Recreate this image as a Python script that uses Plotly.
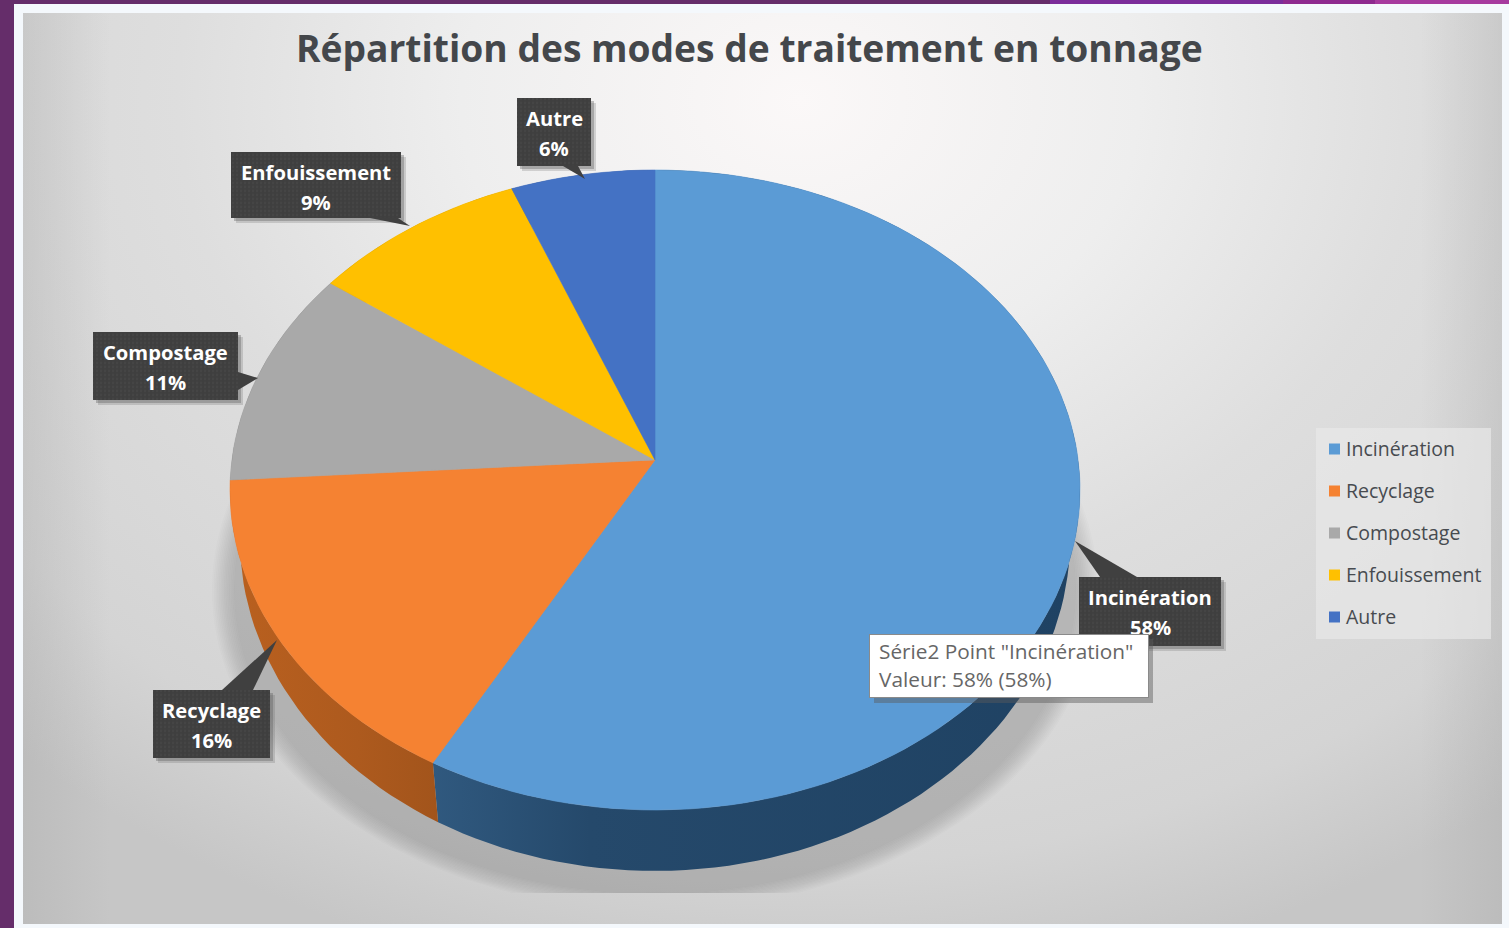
import numpy as np
import plotly.graph_objects as go

# ---- data ----
categories = ["Incinération", "Recyclage", "Compostage", "Enfouissement", "Autre"]
shares = [58, 16, 11, 9, 6]
top_colors = ["#5b9bd5", "#f58232", "#a9a9a9", "#ffc000", "#4472c4"]
wall_colors = ["#24496b", "#ad5a1e", "#6f6f6f", "#a67c00", "#2c4a80"]

title_text = "Répartition des modes de traitement en tonnage"
tooltip_lines = ['Série2 Point "Incinération"', "Valeur: 58% (58%)"]

# ---- layout of the drawing (screen pixels used as axis units) ----
W, H = 1509, 928
X0, X1, Y0, Y1 = 23, 1502, 13, 924
CX = 655
TOP = dict(cy=490, rx=425, ry=320)
BOT = dict(cy=540, rx=415, ry=331)
PERSP = -0.094   # foreshortening of the tilted disc
FONT = "Open Sans"


def project(theta, disc):
    X, Y = np.sin(theta), -np.cos(theta)
    d = 1 + PERSP * Y
    u = X * np.sqrt(1 - PERSP ** 2) / d
    v = (Y + PERSP) / d
    return CX + disc["rx"] * u, disc["cy"] + disc["ry"] * v


def arc(start, stop, disc):
    th = np.radians(np.linspace(start, stop, max(int(stop - start) * 2, 3)) * 3.6)
    return project(th, disc)


def wedge(start, stop, disc):
    x, y = arc(start, stop, disc)
    ax, ay = CX, disc["cy"] + disc["ry"] * PERSP
    return np.r_[ax, x, ax], np.r_[ay, y, ay]


def strip(start, stop):
    xt, yt = arc(start, stop, TOP)
    xb, yb = arc(start, stop, BOT)
    return np.r_[xt, xb[::-1], xt[0]], np.r_[yt, yb[::-1], yt[0]]


def add_rect(fig, x0, y0, x1, y1, **kw):
    fig.add_trace(go.Scatter(x=[x0, x1, x1, x0, x0], y=[y0, y0, y1, y1, y0], mode="lines",
                             line_width=0, fill="toself", hoverinfo="skip", showlegend=False, **kw))


fig = go.Figure()

# background radial gradient
add_rect(fig, -330, -800, 1930, 1000, fillgradient=dict(type="radial", colorscale=[
    [0, "#fbf8f8"], [0.30, "#eeeeee"], [0.55, "#dedede"], [0.85, "#d4d4d4"], [1, "#c6c6c6"]]))
add_rect(fig, X0, Y0, 110, Y1, fillgradient=dict(type="horizontal", start=X0, stop=110, colorscale=[
    [0, "rgba(170,170,170,0.35)"], [1, "rgba(170,170,170,0)"]]))
add_rect(fig, 1420, Y0, X1, Y1, fillgradient=dict(type="horizontal", start=1420, stop=X1, colorscale=[
    [0, "rgba(170,170,170,0)"], [1, "rgba(170,170,170,0.35)"]]))

# soft shadow under the disc
for k in np.linspace(1.0, 0.95, 14):
    th = np.linspace(0, 2 * np.pi, 240)
    sx = CX + 443 * k * np.sin(th)
    sy = np.minimum(590 - 320 * k * np.cos(th), 893)
    fig.add_trace(go.Scatter(x=sx, y=sy, mode="lines", line_width=0, fill="toself",
                             fillcolor="rgba(40,40,40,0.014)", hoverinfo="skip", showlegend=False))

edges = np.r_[0, np.cumsum(shares)]

# side wall
for i, name in enumerate(categories):
    x, y = strip(edges[i], edges[i + 1])
    tr = dict(x=x, y=y, mode="lines", line_width=0, fill="toself", hoverinfo="skip", showlegend=False)
    if i == 0:
        tr["fillgradient"] = dict(type="horizontal", start=430, stop=1070,
                                  colorscale=[[0, "#30597f"], [0.25, "#25496b"], [1, "#1f4263"]])
    elif i == 1:
        tr["fillgradient"] = dict(type="horizontal", start=235, stop=440,
                                  colorscale=[[0, "#b9601f"], [0.6, "#ad5a1e"], [1, "#a2541b"]])
    else:
        tr["fillcolor"] = wall_colors[i]
    fig.add_trace(go.Scatter(**tr))

# top face
for i, name in enumerate(categories):
    x, y = wedge(edges[i], edges[i + 1], TOP)
    fig.add_trace(go.Scatter(x=x, y=y, mode="lines", line=dict(width=0.6, color=top_colors[i]),
                             fill="toself", fillcolor=top_colors[i], name=name,
                             hovertemplate=f"{name}: {shares[i]}%<extra></extra>", showlegend=False))

# legend block
leg_y = [449, 491, 533, 575, 617]
add_rect(fig, 1316, 428, 1491, 639, fillcolor="rgba(232,232,232,0.7)")
fig.add_trace(go.Scatter(
    x=[1334.5] * 5, y=leg_y, mode="markers", cliponaxis=False,
    marker=dict(symbol="square", size=11, color=top_colors), hoverinfo="skip", showlegend=False))

annotations = []
for name, yy in zip(categories, leg_y):
    annotations.append(dict(x=1344, y=yy - 1, xref="x", yref="y", xanchor="left", yanchor="middle",
                            showarrow=False, text=name,
                            font=dict(family=FONT, size=19.5, color="#474b50")))

# ---- frames, callouts ----
shapes = []


def frect(x0, y0, x1, y1, color):
    shapes.append(dict(type="rect", xref="paper", yref="paper",
                       x0=(x0 - X0) / (X1 - X0), x1=(x1 - X0) / (X1 - X0),
                       y0=(Y1 - y0) / (Y1 - Y0), y1=(Y1 - y1) / (Y1 - Y0),
                       fillcolor=color, line_width=0, layer="above"))


frect(0, 0, 14, H, "#652d6a")
frect(0, 0, 1050, 4, "#652d6a")
frect(1050, 0, 1283, 4, "#7b2d9b")
frect(1283, 0, 1375, 4, "#8e2a8f")
frect(1375, 0, 1509, 4, "#a63a9e")

boxes = [
    ("Autre", "6%", 517, 98, 591, 166, "M 563 166 L 585 179 L 578 166 Z"),
    ("Enfouissement", "9%", 231, 152, 401, 218, "M 370 218 L 410 226 L 398 218 Z"),
    ("Compostage", "11%", 93, 332, 238, 400, "M 238 372 L 258 378 L 238 390 Z"),
    ("Recyclage", "16%", 153, 690, 270, 758, "M 222 690 L 277 640 L 253 690 Z"),
    ("Incinération", "58%", 1079, 577, 1221, 646, "M 1137 577 L 1075 541 L 1100 577 Z"),
]
for name, pct, x0, y0, x1, y1, callout in boxes:
    add_rect(fig, x0 + 5, y0 + 5, x1 + 5, y1 + 5, fillcolor="rgba(90,90,90,0.22)")
    add_rect(fig, x0 + 3, y0 + 3, x1 + 3, y1 + 3, fillcolor="rgba(90,90,90,0.35)")
    add_rect(fig, x0, y0, x1, y1, fillcolor="#404040",
             fillpattern=dict(shape=".", size=4, solidity=0.25, fgcolor="#4c4c4c", bgcolor="#3f3f3f"))
    shapes.append(dict(type="path", xref="x", yref="y", path=callout,
                       fillcolor="#404040", line_width=0, layer="above"))
    cx = (x0 + x1) / 2
    for txt, dy in ((name, 19.5), (pct, 49.5)):
        annotations.append(dict(x=cx, y=y0 + dy, xref="x", yref="y", xanchor="center", yanchor="middle",
                                showarrow=False, text=f"<b>{txt}</b>",
                                font=dict(family=FONT, size=20.2, color="#ffffff")))

# tooltip
add_rect(fig, 874, 639, 1153, 703, fillcolor="rgba(90,90,90,0.45)")
annotations.append(dict(
    x=869, y=634, xref="x", yref="y", xanchor="left", yanchor="top",
    width=278, height=62, showarrow=False, text=" ",
    bgcolor="#ffffff", bordercolor="#8a8a8a", borderwidth=1, borderpad=0))
for txt, yy in zip(tooltip_lines, (651, 679)):
    annotations.append(dict(x=877, y=yy, xref="x", yref="y", xanchor="left", yanchor="middle",
                            showarrow=False, text=txt,
                            font=dict(family=FONT, size=20.8, color="#666666")))

fig.update_layout(
    width=W, height=H, margin=dict(l=X0, r=W - X1, t=Y0, b=H - Y1, pad=0),
    paper_bgcolor="#f4f8fc", plot_bgcolor="#e0e0e0", showlegend=False, autosize=False,
    title=dict(text=f"<b>{title_text}</b>", x=741 / W, xanchor="center", xref="paper",
               y=1 - 49 / H, yanchor="middle", yref="container",
               font=dict(family=FONT, size=37.2, color="#44474b")),
    xaxis=dict(range=[X0, X1], visible=False, fixedrange=True),
    yaxis=dict(range=[Y1, Y0], visible=False, fixedrange=True),
    shapes=shapes, annotations=annotations,
)

fig.write_html("out.html", config=dict(displayModeBar=False),
               post_script="document.body.style.margin='0';document.body.style.overflow='hidden';")
